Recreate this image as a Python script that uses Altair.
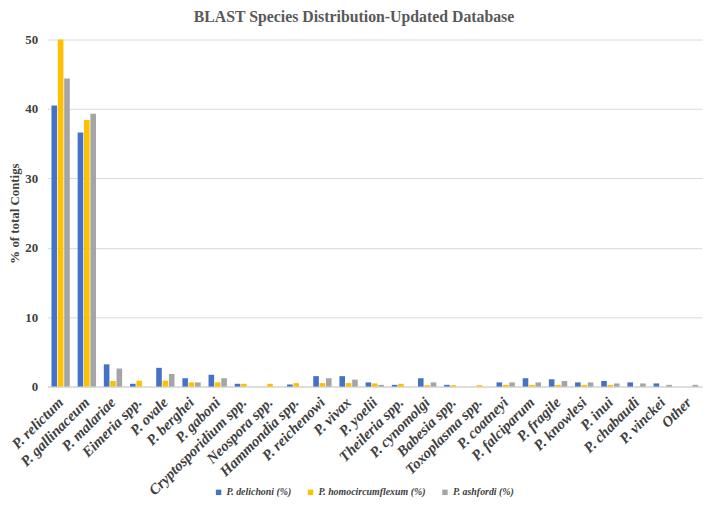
import altair as alt
import pandas as pd

categories = ["P. relictum", "P. gallinaceum", "P. malariae", "Eimeria spp.", "P. ovale",
              "P. berghei", "P. gaboni", "Cryptosporidium spp.", "Neospora spp.", "Hammondia spp.",
              "P. reichenowi", "P. vivax", "P. yoelii", "Theileria spp.", "P. cynomolgi",
              "Babesia spp.", "Toxoplasma spp.", "P. coatneyi", "P. falciparum", "P. fragile",
              "P. knowlesi", "P. inui", "P. chabaudi", "P. vinckei", "Other"]

series = ["P. delichoni (%)", "P. homocircumflexum (%)", "P. ashfordi (%)"]
colors = ["#4472C4", "#FFC000", "#A5A5A5"]

delichoni = [40.5, 36.6, 3.2, 0.4, 2.7, 1.2, 1.7, 0.4, 0, 0.3, 1.5, 1.5, 0.6, 0.25, 1.2,
             0.25, 0, 0.6, 1.2, 1.05, 0.6, 0.8, 0.6, 0.45, 0]
homocircumflexum = [50, 38.4, 0.8, 0.85, 0.85, 0.6, 0.6, 0.4, 0.4, 0.5, 0.5, 0.5, 0.45, 0.4, 0.2,
                    0.2, 0.2, 0.25, 0.25, 0.25, 0.25, 0.25, 0, 0, 0]
ashfordi = [44.4, 39.3, 2.6, 0, 1.8, 0.6, 1.2, 0, 0, 0, 1.2, 1.0, 0.25, 0, 0.6,
            0, 0, 0.6, 0.6, 0.8, 0.6, 0.45, 0.45, 0.25, 0.25]

title_text = ["BLAST Species Distribution-Updated Database"]

rows = []
for s, vals in zip(series, [delichoni, homocircumflexum, ashfordi]):
    for c, v in zip(categories, vals):
        rows.append({"category": c, "series": s, "value": v})
df = pd.DataFrame(rows)

font = "Liberation Serif"

bars = alt.Chart(df).mark_bar().encode(
    x=alt.X("category:N", sort=categories,
            scale=alt.Scale(paddingInner=0.3, paddingOuter=0.15),
            axis=alt.Axis(title=None, labelAngle=-45, labelAlign="right", labelBaseline="middle",
                          labelFont=font, labelFontSize=15, labelFontWeight="bold",
                          labelFontStyle="italic", labelColor="#404040", labelPadding=13,
                          ticks=False, domainColor="#D9D9D9", domainWidth=1.5,
                          labelOverlap=False)),
    xOffset=alt.XOffset("series:N", sort=series, scale=alt.Scale(paddingInner=0.12)),
    y=alt.Y("value:Q", scale=alt.Scale(domain=[0, 50], nice=False),
            axis=alt.Axis(title="% of total Contigs", values=[0, 10, 20, 30, 40, 50],
                          labelFont=font, labelFontSize=13, labelFontWeight="bold",
                          labelColor="#404040", labelPadding=10, ticks=False, domain=False,
                          gridColor="#D9D9D9", gridWidth=1,
                          titleFont=font, titleFontSize=13, titleFontWeight="bold",
                          titleColor="#404040", titlePadding=3)),
    color=alt.Color("series:N", sort=series,
                    scale=alt.Scale(domain=series, range=colors),
                    legend=alt.Legend(title=None, orient="none", direction="horizontal",
                                      legendX=168, legendY=453, symbolType="square",
                                      symbolSize=30, labelFont=font, labelFontSize=10,
                                      labelFontWeight="bold", labelFontStyle="italic",
                                      labelColor="#404040", columnPadding=14, labelOffset=3)),
)

title = alt.Chart(pd.DataFrame({"t": title_text})).mark_text(
    font=font, fontSize=16, fontWeight="bold", color="#595959",
    align="center", baseline="alphabetic"
).encode(text="t:N", x=alt.value(310), y=alt.value(-18))

chart = alt.layer(bars, title).properties(
    width=662,
    height=351,
    autosize=alt.AutoSizeParams(type="none"),
    padding={"left": 40, "top": 29, "right": 2, "bottom": 127},
).configure_view(stroke=None)

chart.save("out.html", embed_options={"renderer": "svg", "actions": False})
